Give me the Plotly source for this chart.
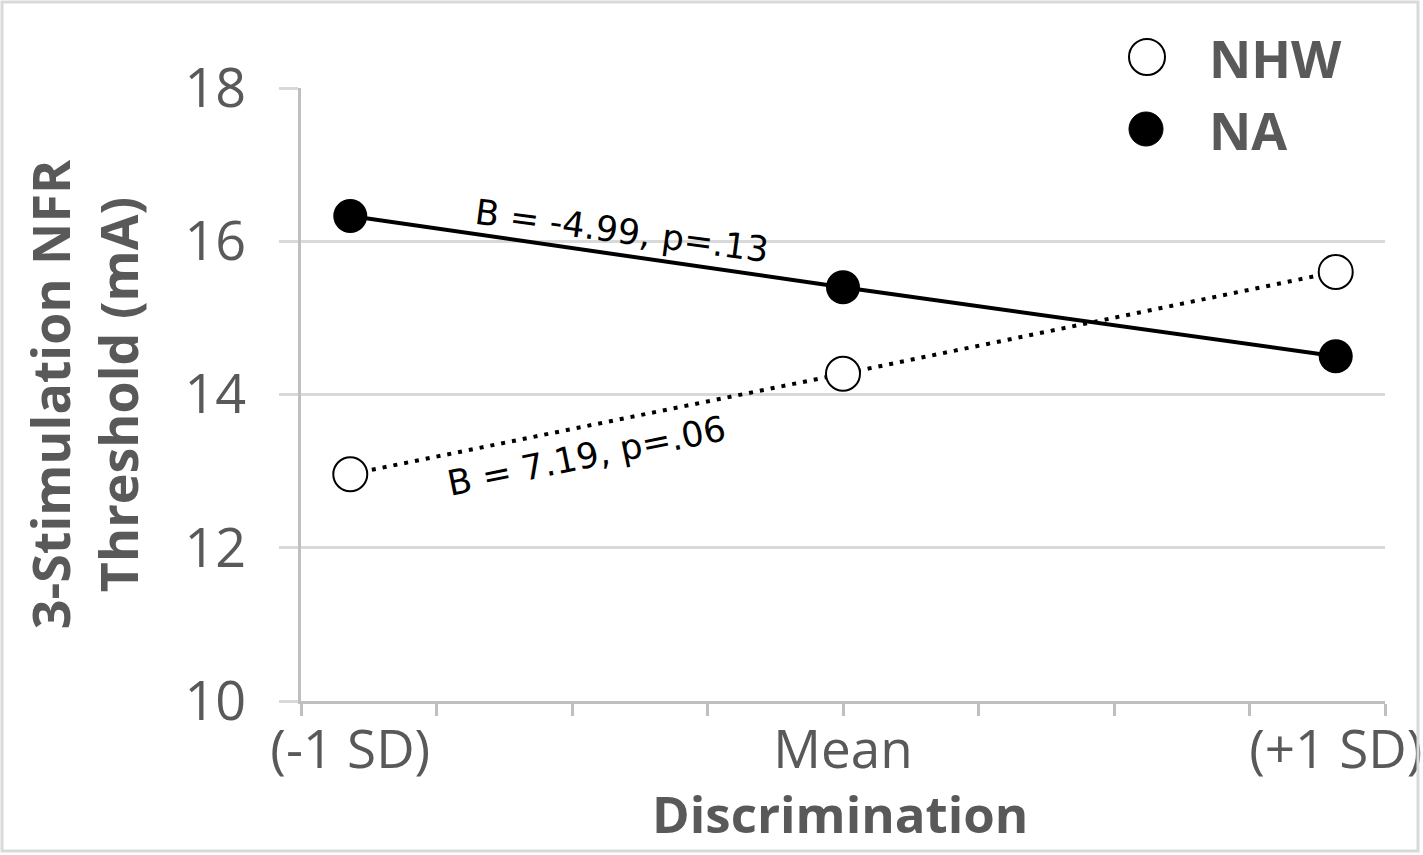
import numpy as np
import plotly.graph_objects as go

# ---- data ----
x_levels = [-1, 0, 1]
x_ticktext = ["(-1 SD)", "Mean", "(+1 SD)"]
nhw_values = [12.96, 14.27, 15.60]
na_values = [16.33, 15.40, 14.50]
y_ticks = [10, 12, 14, 16, 18]
nhw_label = "B = 7.19, p=.06"
na_label = "B = -4.99, p=.13"

W, H = 1423, 855
ML, MR, MT, MB = 301, 38, 88, 154
PW, PH = W - ML - MR, H - MT - MB


def px_x(p):
    return (p - ML) / PW


def px_y(p):
    return (H - MB - p) / PH


GREY_TXT = "#595959"
AXIS = "#bfbfbf"
GRID = "#d9d9d9"
FONT = "Open Sans"

fig = go.Figure()
fig.add_trace(go.Scatter(
    x=x_levels, y=nhw_values, mode="lines+markers", name="NHW",
    line=dict(color="black", width=4, dash="4px,7px"),
    marker=dict(symbol="circle", size=34, color="white",
                line=dict(color="black", width=2)),
    showlegend=False, cliponaxis=False))
fig.add_trace(go.Scatter(
    x=x_levels, y=na_values, mode="lines+markers", name="NA",
    line=dict(color="black", width=4),
    marker=dict(symbol="circle", size=34, color="black"),
    showlegend=False, cliponaxis=False))

fig.update_xaxes(
    range=[-1.1, 1.1], tickmode="array", tickvals=x_levels, ticktext=x_ticktext,
    ticks="", showgrid=False, zeroline=False,
    showline=True, linecolor=AXIS, linewidth=3,
    tickfont=dict(family=FONT, size=53, color=GREY_TXT),
    ticklabelstandoff=0, ticklabeloverflow="allow",
    minor=dict(tickmode="array", tickvals=list(np.linspace(-1.1, 1.1, 9)),
               ticks="outside", ticklen=12, tickwidth=3, tickcolor=AXIS,
               showgrid=False),
)
fig.update_yaxes(
    range=[10, 18], tickmode="array", tickvals=y_ticks,
    ticks="outside", ticklen=19, tickwidth=3, tickcolor=GRID,
    showgrid=True, gridcolor=GRID, gridwidth=3, zeroline=False,
    showline=True, linecolor=AXIS, linewidth=3,
    tickfont=dict(family=FONT, size=54, color=GREY_TXT),
    ticklabelstandoff=22,
    title=dict(text="<b>3-Stimulation NFR<br>Threshold (mA)</b>", standoff=30,
               font=dict(family=FONT, size=52, color=GREY_TXT)),
)

annotations = [
    dict(x=-0.449, y=16.14, xref="x", yref="y", text=na_label, showarrow=False,
         textangle=7.5, font=dict(family="DejaVu Sans", size=35, color="black")),
    dict(x=-0.52, y=13.20, xref="x", yref="y", text=nhw_label, showarrow=False,
         textangle=-11.5, font=dict(family="DejaVu Sans", size=35, color="black")),
    dict(x=px_x(1207), y=px_y(57), xref="paper", yref="paper", text="<b>NHW</b>",
         showarrow=False, xanchor="left", yanchor="middle",
         font=dict(family=FONT, size=52, color=GREY_TXT)),
    dict(x=px_x(1207), y=px_y(129), xref="paper", yref="paper", text="<b>NA</b>",
         showarrow=False, xanchor="left", yanchor="middle",
         font=dict(family=FONT, size=52, color=GREY_TXT)),
    dict(x=px_x(840), y=px_y(813), xref="paper", yref="paper",
         text="<b>Discrimination</b>", showarrow=False,
         xanchor="center", yanchor="middle",
         font=dict(family=FONT, size=51, color=GREY_TXT)),
]

shapes = [
    dict(type="rect", xref="paper", yref="paper",
         x0=px_x(2), x1=px_x(1418), y0=px_y(851), y1=px_y(2),
         line=dict(color=GRID, width=3), fillcolor="rgba(0,0,0,0)", layer="above"),
    dict(type="circle", xref="paper", yref="paper",
         xsizemode="pixel", ysizemode="pixel",
         xanchor=px_x(1147), yanchor=px_y(57), x0=-18, x1=18, y0=-18, y1=18,
         line=dict(color="black", width=2), fillcolor="white"),
    dict(type="circle", xref="paper", yref="paper",
         xsizemode="pixel", ysizemode="pixel",
         xanchor=px_x(1146), yanchor=px_y(129), x0=-17, x1=17, y0=-17, y1=17,
         line=dict(color="black", width=1), fillcolor="black"),
]

fig.update_layout(
    width=W, height=H,
    margin=dict(l=ML, r=MR, t=MT, b=MB, autoexpand=False),
    paper_bgcolor="white", plot_bgcolor="white",
    showlegend=False,
    annotations=annotations, shapes=shapes,
)

fig.write_html(
    "out.html",
    config={"displayModeBar": False},
    post_script="document.body.style.margin='0';document.body.style.overflow='hidden';",
)
